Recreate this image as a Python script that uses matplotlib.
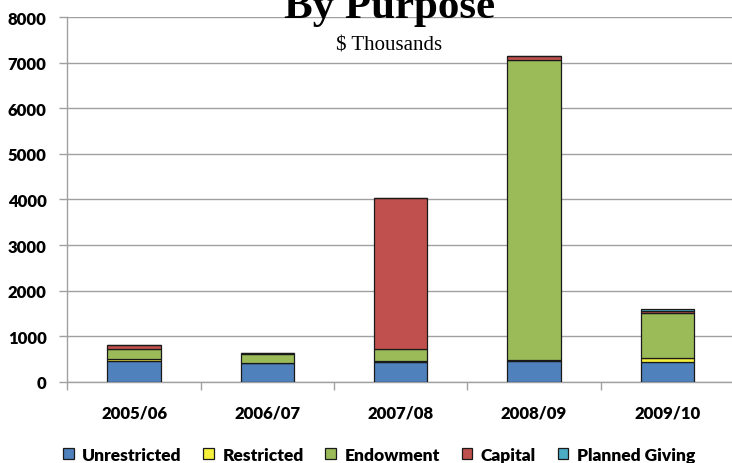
import matplotlib.pyplot as plt
import numpy as np

years = ['2005/06', '2006/07', '2007/08', '2008/09', '2009/10']
unrestricted = [450, 410, 440, 450, 430]
restricted = [60, 10, 10, 30, 90]
endowment = [215, 200, 265, 6580, 985]
capital = [80, 15, 3320, 95, 55]
planned_giving = [0, 0, 0, 0, 35]

series = [('Unrestricted', unrestricted, '#4F81BD'),
          ('Restricted', restricted, '#F5F03C'),
          ('Endowment', endowment, '#9BBB59'),
          ('Capital', capital, '#C0504D'),
          ('Planned Giving', planned_giving, '#4BACC6')]

label_font = 'Lato'
label_weight = 'heavy'
grid_color = '#a0a0a0'

fig = plt.figure(figsize=(7.32, 4.64), dpi=100)
ax = fig.add_axes([0.0922, 0.1746, 0.9105, 0.7866])

x = np.arange(len(years))
bottom = np.zeros(len(years))
for name, vals, color in series:
    vals = np.array(vals, dtype=float)
    ax.bar(x, vals, width=0.4, bottom=bottom, color=color, edgecolor='#1a1a1a',
           linewidth=0.9, label=name, zorder=3)
    bottom += vals

ax.set_xlim(-0.5, len(years) - 0.5)
ax.set_ylim(0, 8000)
ax.set_yticks(np.arange(0, 8001, 1000))
ax.yaxis.grid(True, color=grid_color, linewidth=1.0, zorder=0)
ax.set_axisbelow(True)

ax.set_xticks(x)
ax.set_xticklabels(years)
ax.set_xticks(np.arange(-0.5, len(years)), minor=True)
ax.tick_params(axis='x', which='major', length=0, pad=16)
ax.tick_params(axis='x', which='minor', length=6, color=grid_color, width=1.0)
ax.tick_params(axis='y', length=6, color=grid_color, width=1.0, pad=9)

for lab in ax.get_xticklabels() + ax.get_yticklabels():
    lab.set_fontfamily(label_font)
    lab.set_fontweight(label_weight)
    lab.set_fontsize(12)

for side in ['top', 'right']:
    ax.spines[side].set_visible(False)
for side in ['left', 'bottom']:
    ax.spines[side].set_color(grid_color)
    ax.spines[side].set_linewidth(1.0)

leg = fig.legend(loc='center', bbox_to_anchor=(379 / 732, 1 - 456 / 464), ncol=5,
                 frameon=False, handlelength=0.6, handleheight=0.6, handletextpad=0.5,
                 columnspacing=1.25, prop={'family': label_font, 'weight': label_weight, 'size': 12.5})

fig.text(390 / 732, 1 - 17.7 / 464, 'By Purpose', ha='center', va='baseline',
         family='Liberation Serif', fontweight='bold', fontsize=31)
fig.text(389 / 732, 1 - 50 / 464, '$ Thousands', ha='center', va='baseline',
         family='Liberation Serif', fontsize=15)

fig.savefig('out.png', dpi=100)
